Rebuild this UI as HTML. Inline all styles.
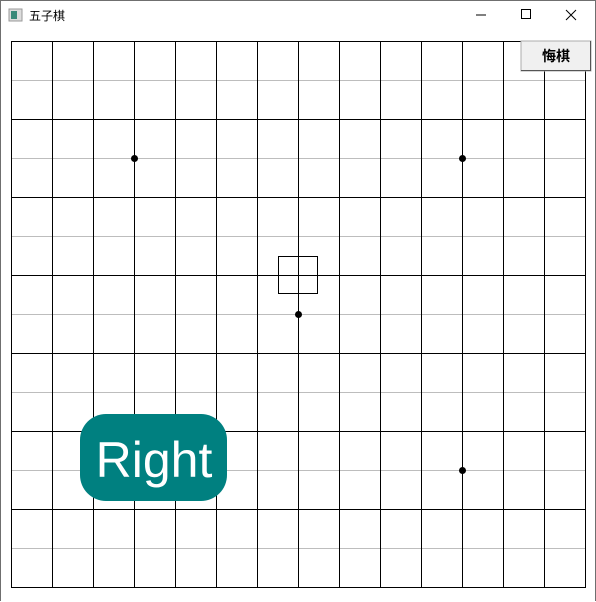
<!DOCTYPE html>
<html><head><meta charset="utf-8"><style>
body{margin:0;width:596px;height:602px;overflow:hidden;background:#fff;font-family:"Liberation Sans","Noto Sans CJK SC",sans-serif}
#win{position:absolute;left:0;top:0;width:594px;height:600px;border:1px solid #6f6f6f;border-bottom:none;background:#fff}
</style></head><body>
<div id="win"></div>
<svg width="596" height="602" style="position:absolute;left:0;top:0">
  <g>
    <rect x="9" y="9" width="13" height="12" fill="#ddd" stroke="#999"/>
    <rect x="11" y="11" width="6" height="8" fill="#3a8a7a"/>
    <text x="29" y="20" font-size="12" font-family="Noto Sans CJK SC, sans-serif" fill="#000">五子棋</text>
    <line x1="476" y1="15" x2="486" y2="15" stroke="#000"/>
    <rect x="521.5" y="9.5" width="9" height="9" fill="none" stroke="#000"/>
    <path d="M566 10L576 20M576 10L566 20" stroke="#000"/>
  </g>
  <g id="board"></g>
  <g>
    <rect x="521" y="41" width="70" height="30" fill="#f0f0f0" stroke="#adadad"/>
    <line x1="521" y1="70.5" x2="591" y2="70.5" stroke="#555"/>
    <line x1="590.5" y1="41" x2="590.5" y2="71" stroke="#555"/>
    <text x="556" y="61" font-size="14" font-weight="bold" text-anchor="middle" font-family="Noto Sans CJK SC, sans-serif">悔棋</text>
  </g>
  <g>
    <rect x="80" y="414" width="147" height="87" rx="26" fill="#008080"/>
    <text x="154" y="477" font-size="50" fill="#fff" text-anchor="middle">Right</text>
  </g>
</svg>
<script>
const cols=[0,1,2,3,4,5,6,7,8,9,10,11,12,13,14];
const rows=[0,1,2,3,4,5,6,7,8,9,10,11,12,13,14];
const stars=[[3,3],[11,3],[7,7],[11,11]];
const cursor=[7,6];
const NS='http://www.w3.org/2000/svg';
const g=document.getElementById('board');
const X=c=>11+c*41, Y=r=>41+r*39;
function mk(t,a){const e=document.createElementNS(NS,t);for(const k in a)e.setAttribute(k,a[k]);g.appendChild(e);return e;}
rows.forEach(r=>{const e=mk('line',{x1:X(0),x2:X(14),y1:Y(r)+0.5,y2:Y(r)+0.5,stroke:r%2?'#bdbdbd':'#000'});

});
cols.forEach(c=>{const e=mk('line',{x1:X(c)+0.5,x2:X(c)+0.5,y1:Y(0),y2:Y(14)+1,stroke:'#000'});

});
stars.forEach(s=>{const e=mk('circle',{cx:X(s[0])+0.5,cy:Y(s[1])+0.5,r:3.5,fill:'#000'});

});
const cu=mk('rect',{x:X(cursor[0])-19.5,y:Y(cursor[1])-18.5,width:39,height:37,fill:'none',stroke:'#000'});


</script>
</body></html>
